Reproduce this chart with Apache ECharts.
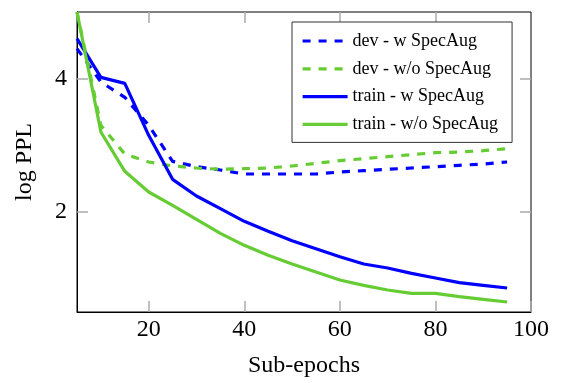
<!DOCTYPE html>
<html>
<head>
<meta charset="utf-8">
<script src="https://cdn.jsdelivr.net/npm/echarts@6/dist/echarts.min.js"></script>
<style>
html,body{margin:0;padding:0;background:#fff;}
#chart{width:563px;height:383px;}
</style>
</head>
<body>
<div id="chart"></div>
<script>
var subEpochs = [5,10,15,20,25,30,35,40,45,50,55,60,65,70,75,80,85,90,95];
var devW    = [4.45,3.95,3.72,3.3,2.76,2.68,2.63,2.57,2.57,2.57,2.57,2.6,2.62,2.64,2.66,2.68,2.7,2.72,2.75];
var devWo   = [5.0,3.3,2.87,2.75,2.69,2.66,2.64,2.65,2.66,2.69,2.73,2.77,2.8,2.83,2.86,2.89,2.9,2.92,2.95];
var trainW  = [4.6,4.02,3.93,3.15,2.49,2.24,2.05,1.86,1.71,1.57,1.45,1.33,1.22,1.16,1.08,1.01,0.94,0.9,0.86];
var trainWo = [5.0,3.2,2.61,2.3,2.1,1.89,1.68,1.5,1.35,1.22,1.1,0.98,0.9,0.83,0.78,0.78,0.73,0.69,0.65];
var seriesNames = ['dev - w SpecAug','dev - w/o SpecAug','train - w SpecAug','train - w/o SpecAug'];
var xTicks = [20,40,60,80,100];
var xTicksTop = [20,40,60,80];
var yTicks = [2,4];

var BLUE = '#0000ff', GREEN = '#66cc33';
var FONT = '"Liberation Serif", "DejaVu Serif", serif';

function pairs(vals){ return subEpochs.map(function(x,i){ return [x, vals[i]]; }); }
function mk(name, vals, color, dashed){
  return {
    name: name, type: 'line', data: pairs(vals), symbol: 'none',
    lineStyle: { color: color, width: 3.2, type: dashed ? [8,8] : 'solid', cap: 'butt' },
    itemStyle: { color: color },
    animation: false
  };
}
var tickStyle = { show: true, inside: true, length: 11, lineStyle: { color: '#aaaaaa', width: 1.5 } };

var chart = echarts.init(document.getElementById('chart'), null, {renderer: 'canvas'});
chart.setOption({
  animation: false,
  textStyle: { fontFamily: FONT },
  grid: { left: 77, right: 32, top: 12, bottom: 69, show: true, borderColor: '#000', borderWidth: 1, backgroundColor: 'transparent' },
  legend: {
    orient: 'vertical', left: 292, top: 22,
    data: seriesNames,
    itemWidth: 45, itemHeight: 10, itemGap: 9.8,
    padding: [10, 14, 9, 9],
    itemStyle: { opacity: 0, borderWidth: 0 },
    lineStyle: { width: 3.2 },
    borderColor: '#333', borderWidth: 1, backgroundColor: '#fff',
    textStyle: { fontFamily: FONT, fontSize: 18, color: '#000', lineHeight: 18 }
  },
  xAxis: [{
    type: 'value', min: 5, max: 100, position: 'bottom',
    name: 'Sub-epochs', nameLocation: 'middle', nameGap: 42,
    nameTextStyle: { fontFamily: FONT, fontSize: 24, color: '#000' },
    axisLine: { show: true, lineStyle: { color: '#000', width: 1 } },
    axisTick: Object.assign({ customValues: xTicks }, tickStyle),
    axisLabel: { customValues: xTicks, fontFamily: FONT, fontSize: 24, color: '#000', margin: 6 },
    splitLine: { show: false }
  },{
    type: 'value', min: 5, max: 100, position: 'top',
    axisLine: { show: false },
    axisTick: Object.assign({ customValues: xTicksTop }, tickStyle),
    axisLabel: { show: false },
    splitLine: { show: false }
  }],
  yAxis: [{
    type: 'value', min: 0.5, max: 5, position: 'left',
    name: 'log PPL', nameLocation: 'middle', nameGap: 40, nameRotate: 90,
    nameTextStyle: { fontFamily: FONT, fontSize: 24, color: '#000' },
    axisLine: { show: true, lineStyle: { color: '#000', width: 1 } },
    axisTick: Object.assign({ customValues: yTicks }, tickStyle),
    axisLabel: { customValues: yTicks, fontFamily: FONT, fontSize: 24, color: '#000', margin: 10 },
    splitLine: { show: false }
  },{
    type: 'value', min: 0.5, max: 5, position: 'right',
    axisLine: { show: false },
    axisTick: Object.assign({ customValues: yTicks }, tickStyle),
    axisLabel: { show: false },
    splitLine: { show: false }
  }],
  series: [
    mk(seriesNames[0], devW, BLUE, true),
    mk(seriesNames[1], devWo, GREEN, true),
    mk(seriesNames[2], trainW, BLUE, false),
    mk(seriesNames[3], trainWo, GREEN, false)
  ]
});
</script>
</body>
</html>
